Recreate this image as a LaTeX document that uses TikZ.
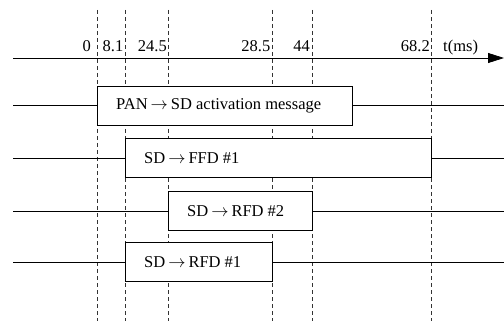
\documentclass[tikz,border=0pt]{standalone}
\usepackage{fontspec}
\setmainfont{Liberation Serif}
\usetikzlibrary{arrows.meta}
\newcommand{\msgarrow}{\hspace{0.18em}$\rightarrow$\hspace{0.18em}}
\begin{document}
\begin{tikzpicture}[x=1pt,y=-1pt,
  guide/.style={dash pattern=on 4pt off 3pt, line width=0.8pt, black!80},
  wire/.style={line width=0.8pt, black},
  msgbox/.style={draw, fill=white, line width=0.8pt, anchor=north west, inner sep=0pt, minimum height=39pt},
  msglbl/.style={anchor=west, xshift=19pt, font=\fontsize{16.5}{19}\selectfont, inner sep=0pt},
  tick/.style={anchor=base east, font=\fontsize{16.5}{19}\selectfont, inner sep=0pt}]
\useasboundingbox (0,0) rectangle (504,321);
% time guides
\foreach \gx in {97,125,168,272,312,431}
  \draw[guide] (\gx,10) -- (\gx,321);
% axis
\coordinate (a0) at (13,58);
\coordinate (a1) at (504,58);
\draw[wire,-{Triangle[length=16pt,width=10pt]}] (a0) -- (a1);
\node[tick] (t0) at (91,52) {0};
\node[tick] (t1) at (123.5,52) {8.1};
\node[tick] (t2) at (167,52) {24.5};
\node[tick] (t3) at (270.5,52) {28.5};
\node[tick] (t4) at (310,52) {44};
\node[tick] (t5) at (430,52) {68.2};
\node[tick,anchor=base west] (tu) at (443,52) {t(ms)};
% edges of lanes
\coordinate (L) at (13,0);
\coordinate (R) at (504,0);
% boxes
\node[msgbox, minimum width=255pt, label={[msglbl]west:PAN\msgarrow SD activation message}] (b1) at (97,86) {};
\node[msgbox, minimum width=306pt, label={[msglbl]west:SD\msgarrow FFD \#1}] (b2) at (125,138) {};
\node[msgbox, minimum width=144pt, label={[msglbl]west:SD\msgarrow RFD \#2}] (b3) at (168,191) {};
\node[msgbox, minimum width=147pt, label={[msglbl]west:SD\msgarrow RFD \#1}] (b4) at (125,242) {};
% lane wires
\foreach \b in {b1,b2,b3,b4}{
  \draw[wire] (\b.west) -- (\b.west -| L);
  \draw[wire] (\b.east) -- (\b.east -| R);
}
\end{tikzpicture}
\end{document}
